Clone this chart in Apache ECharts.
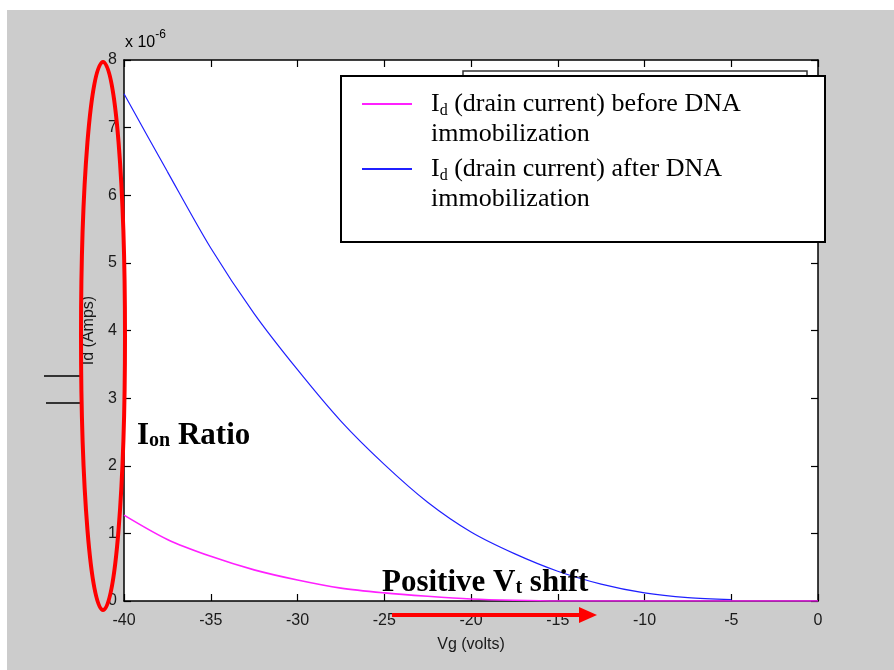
<!DOCTYPE html>
<html>
<head>
<meta charset="utf-8">
<script src="https://cdn.jsdelivr.net/npm/echarts@6/dist/echarts.min.js"></script>
<style>
html,body{margin:0;padding:0;background:#fff;}
#chart{width:894px;height:670px;}
</style>
</head>
<body>
<div id="chart"></div>
<script>
// Gate voltage (V) samples
const vgAfter  = [-40, -37.5, -35, -32.5, -30, -27.5, -25, -22.5, -20, -17.5, -15, -12.5, -10, -7.5, -5];
// Id after DNA immobilization (x 1e-6 A)
const idAfter  = [7.50, 6.35, 5.22, 4.25, 3.42, 2.66, 2.02, 1.46, 1.02, 0.70, 0.44, 0.25, 0.12, 0.05, 0.02];
const vgBefore = [-40, -37.5, -35, -32.5, -30, -27.5, -25, -22.5, -20, -17.5, -15, -10, -5, 0];
// Id before DNA immobilization (x 1e-6 A)
const idBefore = [1.27, 0.91, 0.66, 0.46, 0.31, 0.19, 0.12, 0.07, 0.03, 0.01, 0, 0, 0, 0];
const xTicks = [-40, -35, -30, -25, -20, -15, -10, -5, 0];
const yTicks = [0, 1, 2, 3, 4, 5, 6, 7, 8];

const nameBefore = 'Id (drain current) before DNA immobilization';
const nameAfter  = 'Id (drain current) after DNA immobilization';

const chart = echarts.init(document.getElementById('chart'), null, {renderer: 'canvas'});
const tickFont = {fontFamily: 'Liberation Sans', fontSize: 16, color: '#1a1a1a'};
const serif = 'Liberation Serif';

function axisCommon(showLabel) {
  return {
    axisLine: {show: true, onZero: false, lineStyle: {color: '#000', width: 1.5}},
    axisTick: {show: true, inside: true, length: 7, lineStyle: {color: '#000', width: 1.2}},
    axisLabel: Object.assign({show: showLabel}, tickFont),
    splitLine: {show: false}
  };
}

const option = {
  backgroundColor: '#ffffff',
  animation: false,
  grid: {left: 124, right: 76, top: 60, bottom: 69, show: true, backgroundColor: '#ffffff', borderWidth: 0},
  xAxis: [
    Object.assign({type: 'value', min: xTicks[0], max: xTicks[xTicks.length - 1], interval: 5, position: 'bottom',
      name: 'Vg (volts)', nameLocation: 'middle', nameGap: 36,
      nameTextStyle: {fontFamily: 'Liberation Sans', fontSize: 16, color: '#1a1a1a'}}, axisCommon(true),
      {axisLabel: Object.assign({show: true, margin: 12}, tickFont)}),
    Object.assign({type: 'value', min: xTicks[0], max: xTicks[xTicks.length - 1], interval: 5, position: 'top'}, axisCommon(false))
  ],
  yAxis: [
    Object.assign({type: 'value', min: yTicks[0], max: yTicks[yTicks.length - 1], interval: 1, position: 'left',
      name: 'Id (Amps)', nameLocation: 'middle', nameGap: 27, nameRotate: 90,
      nameTextStyle: {fontFamily: 'Liberation Sans', fontSize: 16, color: '#1a1a1a'}}, axisCommon(true),
      {axisLabel: Object.assign({show: true, margin: 7}, tickFont)}),
    Object.assign({type: 'value', min: yTicks[0], max: yTicks[yTicks.length - 1], interval: 1, position: 'right'}, axisCommon(false))
  ],
  legend: {
    orient: 'vertical', left: 357, top: 86, itemWidth: 50, itemHeight: 2, icon: 'rect', itemGap: 9,
    data: [nameBefore, nameAfter],
    z: 20,
    formatter: function (n) {
      const what = n === nameBefore ? ' (drain current) before DNA' : ' (drain current) after DNA';
      return '{a|I}{s|d}{a|' + what + '}\n{a|immobilization}';
    },
    textStyle: {
      padding: [30, 0, 0, 14],
      rich: {
        a: {fontFamily: serif, fontSize: 26, lineHeight: 30, color: '#000'},
        s: {fontFamily: serif, fontSize: 16, lineHeight: 16, color: '#000', verticalAlign: 'bottom'}
      }
    }
  },
  series: [
    {
      name: nameAfter, type: 'line', xAxisIndex: 0, yAxisIndex: 0, showSymbol: false, symbol: 'none',
      smooth: 0.3, color: '#2020ff', lineStyle: {width: 1.2, color: '#2020ff'},
      data: vgAfter.map((v, i) => [v, idAfter[i]]), z: 3
    },
    {
      name: nameBefore, type: 'line', xAxisIndex: 0, yAxisIndex: 0, showSymbol: false, symbol: 'none',
      smooth: 0.3, color: '#ff20ff', lineStyle: {width: 1.6, color: '#ff20ff'},
      data: vgBefore.map((v, i) => [v, idBefore[i]]), z: 4
    }
  ],
  graphic: [
    {type: 'rect', z: -10, silent: true, shape: {x: 7, y: 10, width: 887, height: 660}, style: {fill: '#cccccc'}},
    {type: 'rect', z: 10, silent: true, shape: {x: 463, y: 71, width: 344, height: 30}, style: {fill: '#ffffff', stroke: '#333', lineWidth: 1.5}},
    {type: 'rect', z: 11, silent: true, shape: {x: 341, y: 76, width: 484, height: 166}, style: {fill: '#ffffff', stroke: '#000', lineWidth: 2}},
    {type: 'text', z: 12, silent: true, x: 125, y: 29,
      style: {text: '{n|x 10}{e|-6}', rich: {
        n: {fontFamily: 'Liberation Sans', fontSize: 16, lineHeight: 22, color: '#1a1a1a', verticalAlign: 'bottom'},
        e: {fontFamily: 'Liberation Sans', fontSize: 12, lineHeight: 12, color: '#1a1a1a', verticalAlign: 'top'}}}},
    {type: 'line', z: 12, silent: true, shape: {x1: 44, y1: 376, x2: 80, y2: 376}, style: {stroke: '#000', lineWidth: 1.5}},
    {type: 'line', z: 12, silent: true, shape: {x1: 46, y1: 403, x2: 80, y2: 403}, style: {stroke: '#000', lineWidth: 1.5}},
    {type: 'ellipse', z: 15, silent: true, shape: {cx: 103, cy: 336, rx: 22, ry: 274}, style: {fill: 'none', stroke: '#ff0000', lineWidth: 4}},
    {type: 'text', z: 15, silent: true, x: 137, y: 419,
      style: {text: '{b|I}{s|on}{b| Ratio}', rich: {
        b: {fontFamily: serif, fontWeight: 'bold', fontSize: 31, lineHeight: 32, color: '#ff0000', verticalAlign: 'bottom'},
        s: {fontFamily: serif, fontWeight: 'bold', fontSize: 20, lineHeight: 17, color: '#ff0000', verticalAlign: 'bottom'}}}},
    {type: 'text', z: 15, silent: true, x: 382, y: 566,
      style: {text: '{b|Positive V}{s|t}{b| shift}', rich: {
        b: {fontFamily: serif, fontWeight: 'bold', fontSize: 31, lineHeight: 32, color: '#ff0000', verticalAlign: 'bottom'},
        s: {fontFamily: serif, fontWeight: 'bold', fontSize: 20, lineHeight: 17, color: '#ff0000', verticalAlign: 'bottom'}}}},
    {type: 'line', z: 15, silent: true, shape: {x1: 392, y1: 615, x2: 582, y2: 615}, style: {stroke: '#ff0000', lineWidth: 4}},
    {type: 'polygon', z: 15, silent: true, shape: {points: [[579, 607], [597, 615], [579, 623]]}, style: {fill: '#ff0000'}}
  ]
};
chart.setOption(option);
</script>
</body>
</html>
